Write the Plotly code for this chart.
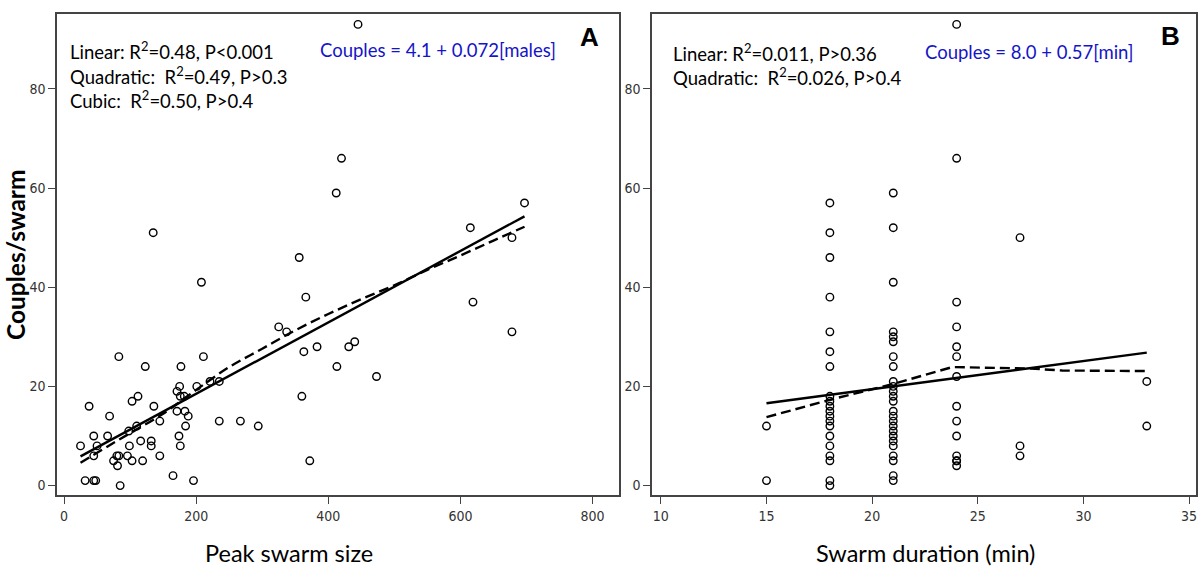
import plotly.graph_objects as go

# ---------------- Panel A data: peak swarm size vs couples/swarm ----------------
a_males = [25, 38, 32, 45, 48, 45, 50, 45, 66, 69, 83, 75, 80, 83, 81, 85, 96, 99, 98, 103,
           112, 110, 103, 116, 119, 123, 132, 132, 136, 145, 145, 165, 171, 175, 176, 182, 177, 171, 174, 176,
           183, 188, 184, 196, 201, 208, 211, 221, 235, 235, 267, 294, 325, 337, 366, 363, 360, 383, 372, 420,
           412, 697, 615, 678, 356, 619, 678, 431, 440, 413, 473, 135, 445]
a_couples = [8, 16, 1, 1, 1, 10, 8, 6, 10, 14, 26, 5, 6, 6, 4, 0, 6, 8, 11, 17,
             18, 12, 5, 9, 5, 24, 9, 8, 16, 13, 6, 2, 19, 20, 18, 18, 24, 15, 10, 8,
             15, 14, 12, 1, 20, 41, 26, 21, 21, 13, 13, 12, 32, 31, 38, 27, 18, 28, 5, 66,
             59, 57, 52, 50, 46, 37, 31, 28, 29, 24, 22, 51, 93]

# linear fit line and dashed smooth curve
a_lin_x = [25, 697]
a_lin_y = [5.9, 54.3]
a_dash_x = [25, 85, 150, 200, 250, 300, 350, 400, 450, 500, 550, 600, 650, 697]
a_dash_y = [4.6, 9.4, 14.5, 19.3, 23.9, 27.6, 31.3, 34.6, 37.6, 40.4, 43.5, 46.4, 49.4, 52.2]

# ---------------- Panel B data: swarm duration vs couples/swarm ----------------
b_durations = [15, 18, 21, 24, 27, 33]
b_couples_15 = [12, 1]
b_couples_18 = [57, 51, 46, 38, 31, 27, 24, 18, 17, 16, 15, 14, 13, 12, 10, 8, 6, 5, 1, 0]
b_couples_21 = [59, 52, 41, 31, 30, 29, 26, 24, 21, 20, 19, 18, 17, 15, 14, 13, 12, 11, 10, 9,
                8, 6, 5, 2, 1]
b_couples_24 = [93, 66, 37, 32, 28, 26, 22, 16, 13, 10, 6, 5, 5, 4]
b_couples_27 = [50, 8, 6]
b_couples_33 = [21, 12]

b_lin_x = [15, 33]
b_lin_y = [16.6, 26.8]
b_dash_x = [15, 18, 21, 23.8, 27.5, 29, 33]
b_dash_y = [13.8, 17.3, 20.5, 23.9, 23.6, 23.2, 23.1]

a_xticks = [0, 200, 400, 600, 800]
b_xticks = [10, 15, 20, 25, 30, 35]
y_ticks = [0, 20, 40, 60, 80]

# build panel B columns
b_groups = [b_couples_15, b_couples_18, b_couples_21, b_couples_24, b_couples_27, b_couples_33]
b_x, b_y = [], []
for d, vals in zip(b_durations, b_groups):
    for v in vals:
        b_x.append(d)
        b_y.append(v)

W, H = 1200, 577
marker = dict(symbol="circle-open", size=7.5, color="black", line=dict(width=1.4, color="black"))
solid = dict(color="black", width=2.4)
dashed = dict(color="black", width=2.4, dash="10px,5px")

fig = go.Figure()
fig.add_trace(go.Scatter(x=a_males, y=a_couples, mode="markers", marker=marker, xaxis="x", yaxis="y"))
fig.add_trace(go.Scatter(x=a_lin_x, y=a_lin_y, mode="lines", line=solid, xaxis="x", yaxis="y"))
fig.add_trace(go.Scatter(x=a_dash_x, y=a_dash_y, mode="lines", line=dict(shape="spline", **dashed),
                         xaxis="x", yaxis="y"))
fig.add_trace(go.Scatter(x=b_x, y=b_y, mode="markers", marker=marker, xaxis="x2", yaxis="y2"))
fig.add_trace(go.Scatter(x=b_lin_x, y=b_lin_y, mode="lines", line=solid, xaxis="x2", yaxis="y2"))
fig.add_trace(go.Scatter(x=b_dash_x, y=b_dash_y, mode="lines", line=dashed, xaxis="x2", yaxis="y2"))

tickfont = dict(family="Liberation Sans Narrow, DejaVu Sans Condensed, sans-serif", size=14, color="#333")
axis_common = dict(showgrid=False, zeroline=False, showline=True, linecolor="#444", linewidth=1.5,
                   mirror=True, ticks="outside", ticklen=7, tickwidth=1, tickcolor="#444",
                   tickfont=tickfont, automargin=False)

y0, y1 = 1 - 495 / H, 1 - 14 / H
fig.update_layout(
    template="none",
    width=W, height=H, autosize=False,
    margin=dict(l=0, r=0, t=0, b=0, pad=0),
    paper_bgcolor="white", plot_bgcolor="white",
    showlegend=False,
    xaxis=dict(domain=[57 / W, 619 / W], range=[-10.6, 840], tickvals=a_xticks, anchor="y", **axis_common),
    yaxis=dict(domain=[y0, y1], range=[-1.9, 95.1], tickvals=y_ticks, anchor="x", **axis_common),
    xaxis2=dict(domain=[652 / W, 1196 / W], range=[9.58, 35.33], tickvals=b_xticks, anchor="y2", **axis_common),
    yaxis2=dict(domain=[y0, y1], range=[-1.9, 95.1], tickvals=y_ticks, anchor="x2", **axis_common),
)

txt = dict(family="Lato, Open Sans, sans-serif", size=18.5, color="black")
blue = dict(family="Lato, Open Sans, sans-serif", size=18.5, color="#1414c8")
ann = []
def add(text, x, y, font, xanchor="left"):
    ann.append(dict(text=text, x=x / W, y=1 - y / H, xref="paper", yref="paper",
                    xanchor=xanchor, yanchor="middle", showarrow=False, font=font))

add("Linear: R<sup>2</sup>=0.48, P<0.001", 68, 50, txt)
add("Quadratic:  R<sup>2</sup>=0.49, P>0.3", 68, 75, txt)
add("Cubic:  R<sup>2</sup>=0.50, P>0.4", 68, 100, txt)
add("Couples = 4.1 + 0.072[males]", 318, 50, blue)
add("<b>A</b>", 589, 37, dict(family="Liberation Sans, Arial, sans-serif", size=26, color="black"), "center")

add("Linear: R<sup>2</sup>=0.011, P>0.36", 671, 52, txt)
add("Quadratic:  R<sup>2</sup>=0.026, P>0.4", 671, 77, txt)
add("Couples = 8.0 + 0.57[min]", 923, 52, blue)
add("<b>B</b>", 1170, 36, dict(family="Liberation Sans, Arial, sans-serif", size=26, color="black"), "center")

title_font = dict(family="Lato, Open Sans, sans-serif", size=23.5, color="black")
add("Peak swarm size", 289, 553, title_font, "center")
add("Swarm duration (min)", 925, 553, title_font, "center")
ann.append(dict(text="<b>Couples/swarm</b>", x=15 / W, y=1 - 255 / H, xref="paper", yref="paper",
                xanchor="center", yanchor="middle", showarrow=False, textangle=-90,
                font=dict(family="Lato, Open Sans, sans-serif", size=24.5, color="black")))
fig.update_layout(annotations=ann)

fig.write_html("out.html", config={"displayModeBar": False},
               post_script="document.body.style.margin='0';document.body.style.padding='0';")
